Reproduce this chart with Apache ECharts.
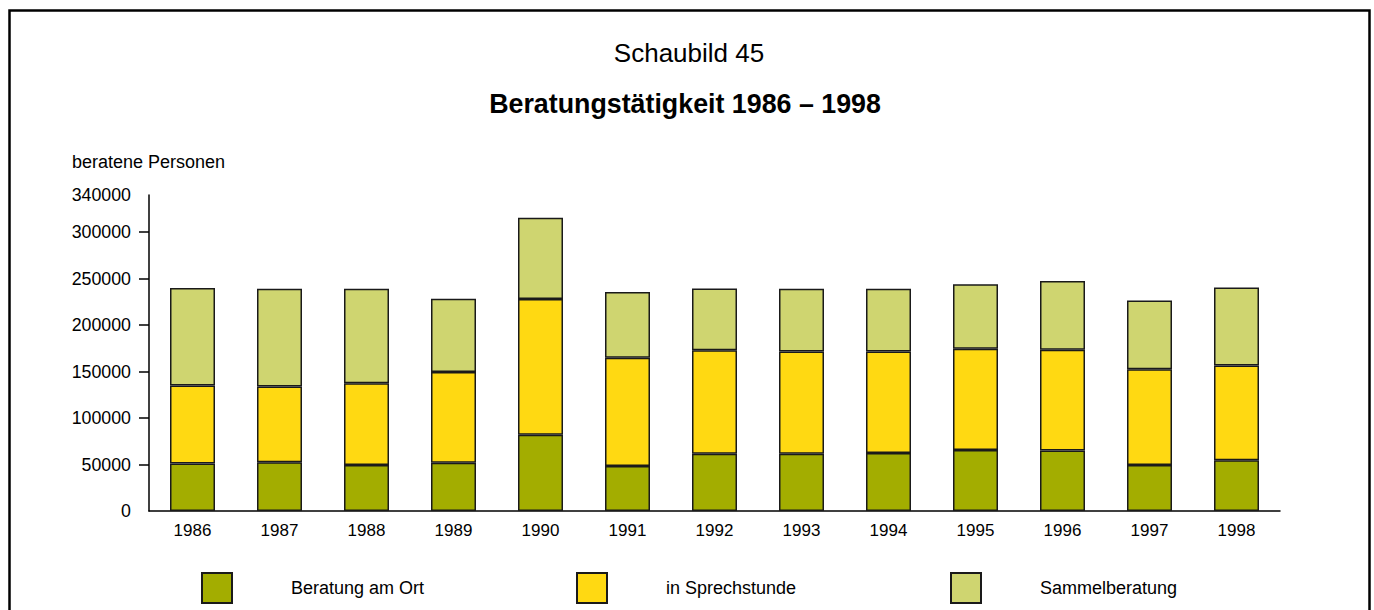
<!DOCTYPE html>
<html>
<head>
<meta charset="utf-8">
<script src="https://cdn.jsdelivr.net/npm/echarts@6/dist/echarts.min.js"></script>
<style>
  html, body { margin: 0; padding: 0; background: #fff; }
  #chart { width: 1374px; height: 610px; }
</style>
</head>
<body>
<div id="chart"></div>
<script>
// Jahre (Kategorien)
const years = ['1986', '1987', '1988', '1989', '1990', '1991', '1992', '1993', '1994', '1995', '1996', '1997', '1998'];

// beratene Personen je Beratungsform
const beratungAmOrt = [51000, 52500, 49500, 52000, 82000, 48500, 61500, 61500, 62500, 65500, 65000, 49500, 54500];
const inSprechstunde = [84000, 81500, 88000, 97500, 146000, 116500, 111500, 110000, 109000, 109000, 108500, 103000, 102000];
const sammelberatung = [105000, 105000, 101500, 79000, 87500, 70500, 66500, 67500, 67500, 69500, 74000, 74000, 84000];

// Achsenbeschriftung der Werteachse
const yLabels = [0, 50000, 100000, 150000, 200000, 250000, 300000, 340000];
const yTicks = [50000, 100000, 150000, 200000, 250000, 300000];

const seriesNames = ['Beratung am Ort', 'in Sprechstunde', 'Sammelberatung'];
const seriesColors = ['#a3ad00', '#ffd912', '#cfd570'];
const seriesData = [beratungAmOrt, inSprechstunde, sammelberatung];

// Legendeneinträge stehen in festen Abständen nebeneinander
const legendLefts = [201, 576, 950];

const FONT = '"Liberation Sans", Arial, sans-serif';

const chart = echarts.init(document.getElementById('chart'), null, { renderer: 'svg' });

chart.setOption({
  backgroundColor: '#fff',
  animation: false,
  textStyle: { fontFamily: FONT, color: '#000' },
  title: [
    {
      text: 'Schaubild 45',
      left: 689, top: 40, padding: 0, textAlign: 'center',
      textStyle: { fontFamily: FONT, fontSize: 26, fontWeight: 'normal', color: '#000' }
    },
    {
      text: 'Beratungstätigkeit 1986 – 1998',
      left: 685, top: 90, padding: 0, textAlign: 'center',
      textStyle: { fontFamily: FONT, fontSize: 26.8, fontWeight: 'bold', color: '#000' }
    },
    {
      text: 'beratene Personen',
      left: 72, top: 153, padding: 0,
      textStyle: { fontFamily: FONT, fontSize: 18, fontWeight: 'normal', color: '#000' }
    }
  ],
  graphic: [
    {
      type: 'rect',
      shape: { x: 9.5, y: 10.5, width: 1360, height: 700 },
      style: { fill: 'none', stroke: '#000', lineWidth: 2.5 },
      silent: true
    }
  ],
  legend: seriesNames.map((name, i) => ({
    left: legendLefts[i], top: 572, padding: 0,
    itemWidth: 30, itemHeight: 30, itemGap: 0,
    icon: 'rect',
    textStyle: { fontFamily: FONT, fontSize: 18, color: '#000', padding: [0, 0, 0, 54] },
    data: [name]
  })),
  grid: { left: 149, right: 94, top: 195, bottom: 99, containLabel: false },
  xAxis: {
    type: 'category',
    data: years,
    axisLine: { lineStyle: { color: '#000', width: 1.5 } },
    axisTick: { show: false },
    axisLabel: { fontFamily: FONT, fontSize: 17, color: '#000', margin: 11 }
  },
  yAxis: {
    type: 'value',
    min: 0, max: 340000,
    splitLine: { show: false },
    axisLine: { show: true, lineStyle: { color: '#000', width: 1.5 } },
    axisTick: { show: true, length: 10, lineStyle: { color: '#000', width: 1.5 }, customValues: yTicks },
    axisLabel: {
      fontFamily: FONT, fontSize: 17.8, color: '#000', margin: 18,
      customValues: yLabels,
      formatter: (v) => String(v)
    }
  },
  series: seriesData.map((d, i) => ({
    name: seriesNames[i],
    type: 'bar',
    stack: 'gesamt',
    data: d,
    barWidth: 45,
    itemStyle: { color: seriesColors[i], borderColor: '#1a1a1a', borderWidth: 1.5 }
  }))
});
</script>
</body>
</html>
